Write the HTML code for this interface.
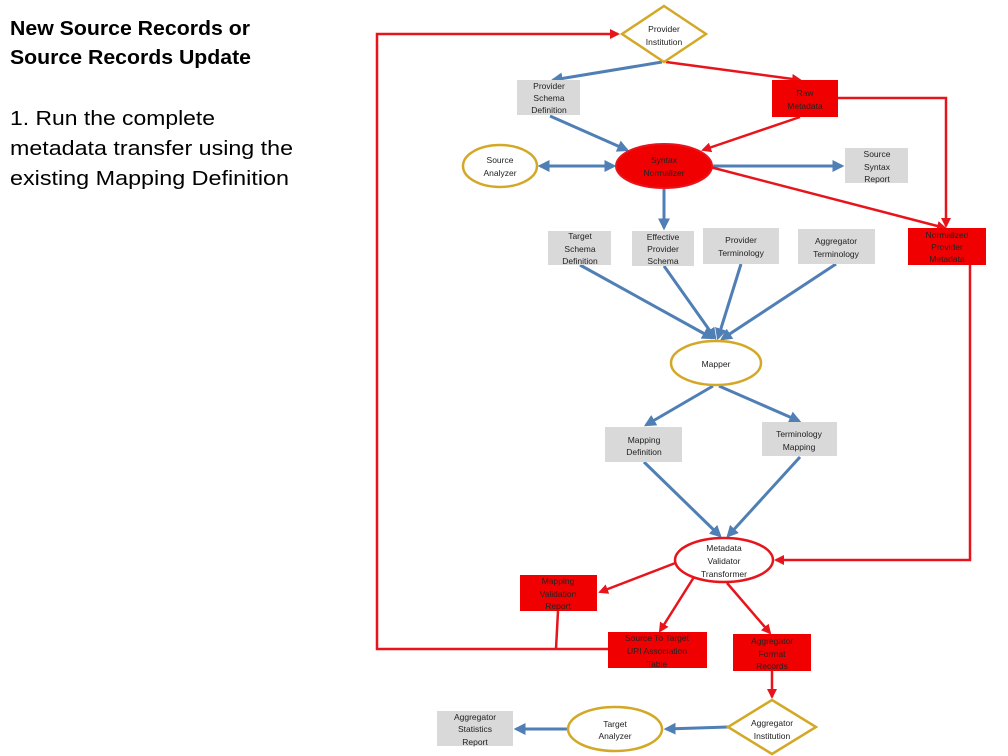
<!DOCTYPE html>
<html><head><meta charset="utf-8"><style>
html,body{margin:0;padding:0;background:#fff;}
svg{display:block;}
text{font-family:"Liberation Sans",sans-serif;}
.t{font-size:8.5px;fill:#222;text-anchor:middle;}
.h{font-size:20px;font-weight:bold;fill:#000;}
.p{font-size:20px;fill:#000;}
.b{stroke:#4F7FB5;stroke-width:3;fill:none;}
.r{stroke:#E8141B;stroke-width:2.5;fill:none;}
</style></head><body>
<svg width="1008" height="756" viewBox="0 0 1008 756" xmlns="http://www.w3.org/2000/svg">
<defs>
<marker id="ab" viewBox="0 0 10 10" refX="8" refY="5" markerWidth="4" markerHeight="4" orient="auto-start-reverse" markerUnits="strokeWidth"><path d="M0,0 L10,5 L0,10 z" fill="#4F7FB5"/></marker>
<marker id="ar" viewBox="0 0 10 10" refX="8" refY="5" markerWidth="4" markerHeight="4" orient="auto-start-reverse" markerUnits="strokeWidth"><path d="M0,0 L10,5 L0,10 z" fill="#E8141B"/></marker>
</defs>
<text class="h" x="10" y="35" textLength="240" lengthAdjust="spacingAndGlyphs">New Source Records or</text>
<text class="h" x="10" y="64" textLength="241" lengthAdjust="spacingAndGlyphs">Source Records Update</text>
<text class="p" x="10" y="125" textLength="205" lengthAdjust="spacingAndGlyphs">1. Run the complete</text>
<text class="p" x="10" y="155" textLength="283" lengthAdjust="spacingAndGlyphs">metadata transfer using the</text>
<text class="p" x="10" y="185" textLength="279" lengthAdjust="spacingAndGlyphs">existing Mapping Definition</text>

<!-- red feedback loop -->
<polyline class="r" points="608,649 377,649 377,34 618,34" marker-end="url(#ar)"/>
<line class="r" x1="558" y1="611" x2="556" y2="649"/>
<polyline class="r" points="838,98 946,98 946,226" marker-end="url(#ar)"/>
<polyline class="r" points="970,265 970,560 776,560" marker-end="url(#ar)"/>

<!-- connectors -->
<line class="b" x1="662" y1="62" x2="553" y2="80" marker-end="url(#ab)"/>
<line class="r" x1="666" y1="62" x2="800" y2="80" marker-end="url(#ar)"/>
<line class="b" x1="550" y1="116" x2="627" y2="150" marker-end="url(#ab)"/>
<line class="r" x1="800" y1="117" x2="703" y2="150" marker-end="url(#ar)"/>
<line class="b" x1="540" y1="166" x2="614" y2="166" marker-start="url(#ab)" marker-end="url(#ab)"/>
<line class="b" x1="713" y1="166" x2="842" y2="166" marker-end="url(#ab)"/>
<line class="r" x1="710" y1="167" x2="945" y2="228" marker-end="url(#ar)"/>
<line class="b" x1="664" y1="189" x2="664" y2="228" marker-end="url(#ab)"/>
<line class="b" x1="580" y1="265" x2="712" y2="338" marker-end="url(#ab)"/>
<line class="b" x1="664" y1="266" x2="715" y2="338" marker-end="url(#ab)"/>
<line class="b" x1="741" y1="264" x2="718" y2="338" marker-end="url(#ab)"/>
<line class="b" x1="836" y1="264" x2="722" y2="339" marker-end="url(#ab)"/>
<line class="b" x1="713" y1="386" x2="646" y2="425" marker-end="url(#ab)"/>
<line class="b" x1="719" y1="386" x2="799" y2="421" marker-end="url(#ab)"/>
<line class="b" x1="644" y1="462" x2="720" y2="536" marker-end="url(#ab)"/>
<line class="b" x1="800" y1="457" x2="728" y2="536" marker-end="url(#ab)"/>
<line class="r" x1="678" y1="562" x2="600" y2="592" marker-end="url(#ar)"/>
<line class="r" x1="694" y1="577" x2="660" y2="631" marker-end="url(#ar)"/>
<line class="r" x1="727" y1="583" x2="770" y2="633" marker-end="url(#ar)"/>
<line class="r" x1="772" y1="671" x2="772" y2="697" marker-end="url(#ar)"/>
<line class="b" x1="728" y1="727" x2="666" y2="729" marker-end="url(#ab)"/>
<line class="b" x1="567" y1="729" x2="516" y2="729" marker-end="url(#ab)"/>

<!-- nodes -->
<polygon points="664,6 706,34 664,62 622,34" fill="#fff" stroke="#D4A827" stroke-width="2.5"/>
<text class="t" x="664" y="32">Provider</text><text class="t" x="664" y="45">Institution</text>

<rect x="517" y="80" width="63" height="35" fill="#D9D9D9"/>
<text class="t" x="549" y="89">Provider</text><text class="t" x="549" y="101">Schema</text><text class="t" x="549" y="113">Definition</text>

<rect x="772" y="80" width="66" height="37" fill="#F00000"/>
<text class="t" x="805" y="96">Raw</text><text class="t" x="805" y="109">Metadata</text>

<ellipse cx="500" cy="166" rx="37" ry="21" fill="#fff" stroke="#D4A827" stroke-width="2.5"/>
<text class="t" x="500" y="163">Source</text><text class="t" x="500" y="176">Analyzer</text>

<ellipse cx="664" cy="166" rx="48" ry="22" fill="#F00000" stroke="#E8141B" stroke-width="2"/>
<text class="t" x="664" y="163">Syntax</text><text class="t" x="664" y="176">Normalizer</text>

<rect x="845" y="148" width="63" height="35" fill="#D9D9D9"/>
<text class="t" x="877" y="157">Source</text><text class="t" x="877" y="170">Syntax</text><text class="t" x="877" y="182">Report</text>

<rect x="548" y="231" width="63" height="34" fill="#D9D9D9"/>
<text class="t" x="580" y="239">Target</text><text class="t" x="580" y="252">Schema</text><text class="t" x="580" y="264">Definition</text>

<rect x="632" y="231" width="62" height="35" fill="#D9D9D9"/>
<text class="t" x="663" y="240">Effective</text><text class="t" x="663" y="252">Provider</text><text class="t" x="663" y="264">Schema</text>

<rect x="703" y="228" width="76" height="36" fill="#D9D9D9"/>
<text class="t" x="741" y="243">Provider</text><text class="t" x="741" y="256">Terminology</text>

<rect x="798" y="229" width="77" height="35" fill="#D9D9D9"/>
<text class="t" x="836" y="244">Aggregator</text><text class="t" x="836" y="257">Terminology</text>

<rect x="908" y="228" width="78" height="37" fill="#F00000"/>
<text class="t" x="947" y="238">Normalized</text><text class="t" x="947" y="250">Provider</text><text class="t" x="947" y="262">Metadata</text>

<ellipse cx="716" cy="363" rx="45" ry="22" fill="#fff" stroke="#D4A827" stroke-width="2.5"/>
<text class="t" x="716" y="367">Mapper</text>

<rect x="605" y="427" width="77" height="35" fill="#D9D9D9"/>
<text class="t" x="644" y="443">Mapping</text><text class="t" x="644" y="455">Definition</text>

<rect x="762" y="422" width="75" height="34" fill="#D9D9D9"/>
<text class="t" x="799" y="437">Terminology</text><text class="t" x="799" y="450">Mapping</text>

<ellipse cx="724" cy="560" rx="49" ry="22" fill="#fff" stroke="#E8141B" stroke-width="2.5"/>
<text class="t" x="724" y="551">Metadata</text><text class="t" x="724" y="564">Validator</text><text class="t" x="724" y="577">Transformer</text>

<rect x="520" y="575" width="77" height="36" fill="#F00000"/>
<text class="t" x="558" y="584">Mapping</text><text class="t" x="558" y="597">Validation</text><text class="t" x="558" y="609">Report</text>

<rect x="608" y="632" width="99" height="36" fill="#F00000"/>
<text class="t" x="657" y="641">Source To Target</text><text class="t" x="657" y="654">URI Association</text><text class="t" x="657" y="667">Table</text>

<rect x="733" y="634" width="78" height="37" fill="#F00000"/>
<text class="t" x="772" y="644">Aggregator</text><text class="t" x="772" y="657">Format</text><text class="t" x="772" y="669">Records</text>

<polygon points="772,700 816,727 772,754 728,727" fill="#fff" stroke="#D4A827" stroke-width="2.5"/>
<text class="t" x="772" y="726">Aggregator</text><text class="t" x="772" y="739">Institution</text>

<ellipse cx="615" cy="729" rx="47" ry="22" fill="#fff" stroke="#D4A827" stroke-width="2.5"/>
<text class="t" x="615" y="727">Target</text><text class="t" x="615" y="739">Analyzer</text>

<rect x="437" y="711" width="76" height="35" fill="#D9D9D9"/>
<text class="t" x="475" y="720">Aggregator</text><text class="t" x="475" y="732">Statistics</text><text class="t" x="475" y="745">Report</text>
</svg>
</body></html>
